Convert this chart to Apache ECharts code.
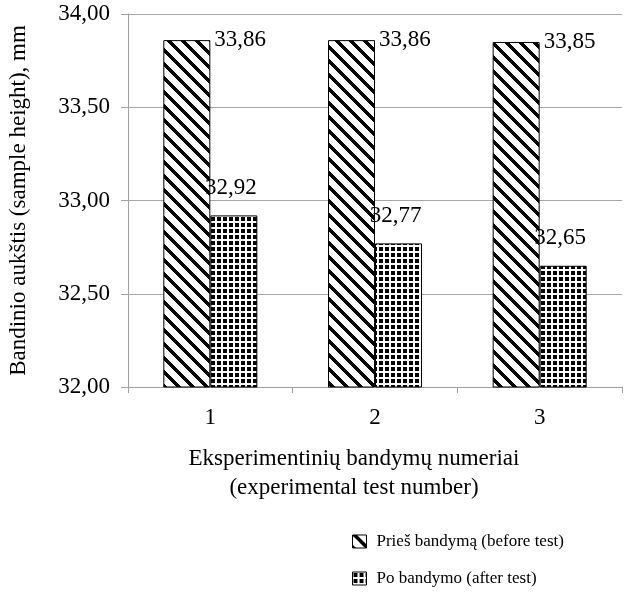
<!DOCTYPE html>
<html>
<head>
<meta charset="utf-8">
<script src="https://cdn.jsdelivr.net/npm/echarts@6/dist/echarts.min.js"></script>
<style>
html,body{margin:0;padding:0;background:#fff;}
#chart{width:625px;height:593px;}
</style>
</head>
<body>
<div id="chart"></div>
<script>
var categories = ['1', '2', '3'];
var beforeValues = [33.86, 33.86, 33.85];
var afterValues = [32.92, 32.77, 32.65];
var seriesNames = ['Prieš bandymą (before test)', 'Po bandymo (after test)'];

var fontFamily = "'Liberation Serif', 'Times New Roman', serif";
var fontSize = 23;

function fmt(v) {
	return Number(v).toFixed(2).replace('.', ',');
}

// diagonal stripes, top-left to bottom-right
function stripePattern() {
	var size = 14, thick = 5;
	var c = document.createElement('canvas');
	c.width = size; c.height = size;
	var ctx = c.getContext('2d');
	var img = ctx.createImageData(size, size);
	for (var y = 0; y < size; y++) {
		for (var x = 0; x < size; x++) {
			var d = ((x - y) % size + size) % size;
			var v = d < thick ? 0 : 255;
			var i = (y * size + x) * 4;
			img.data[i] = v; img.data[i + 1] = v; img.data[i + 2] = v; img.data[i + 3] = 255;
		}
	}
	ctx.putImageData(img, 0, 0);
	return c;
}

// small black squares on white
function gridPattern() {
	var c = document.createElement('canvas');
	c.width = 6; c.height = 6;
	var ctx = c.getContext('2d');
	ctx.fillStyle = '#fff';
	ctx.fillRect(0, 0, 6, 6);
	ctx.fillStyle = '#000';
	ctx.fillRect(1, 1, 4, 4);
	return c;
}

var stripeColor = {image: stripePattern(), repeat: 'repeat'};
var gridColor = {image: gridPattern(), repeat: 'repeat'};

function legendItem(name, top) {
	return {
		left: 347,
		top: top,
		itemWidth: 14,
		itemHeight: 13,
		icon: 'rect',
		data: [name],
		textStyle: {fontFamily: fontFamily, fontSize: 17, color: '#000', padding: [0, 0, 0, 5]},
		itemStyle: {borderColor: '#000', borderWidth: 1}
	};
}

var myChart = echarts.init(document.getElementById('chart'));
var option = {
	backgroundColor: '#fff',
	animation: false,
	textStyle: {fontFamily: fontFamily, color: '#000'},
	grid: {left: 128, right: 3, top: 14, bottom: 206, outerBoundsMode: 'none', containLabel: false},
	legend: [legendItem(seriesNames[0], 528), legendItem(seriesNames[1], 565)],
	xAxis: {
		type: 'category',
		data: categories,
		name: 'Eksperimentinių bandymų numeriai\n(experimental test number)',
		nameLocation: 'middle',
		nameGap: 57,
		nameTextStyle: {fontFamily: fontFamily, fontSize: fontSize, color: '#000', lineHeight: 29, verticalAlign: 'top', padding: [0, 42, 0, 0]},
		axisLine: {lineStyle: {color: '#a0a0a0', width: 1}},
		axisTick: {show: true, length: 6, lineStyle: {color: '#a0a0a0'}},
		axisLabel: {fontFamily: fontFamily, fontSize: fontSize, color: '#000', margin: 19}
	},
	yAxis: {
		type: 'value',
		min: 32,
		max: 34,
		interval: 0.5,
		name: 'Bandinio aukštis (sample height), mm',
		nameLocation: 'middle',
		nameGap: 98,
		nameTextStyle: {fontFamily: fontFamily, fontSize: fontSize, color: '#000'},
		axisLine: {show: true, lineStyle: {color: '#a0a0a0', width: 1}},
		axisTick: {show: true, length: 7, lineStyle: {color: '#a0a0a0'}},
		splitLine: {show: true, lineStyle: {color: '#a6a6a6', width: 1}},
		axisLabel: {fontFamily: fontFamily, fontSize: fontSize, color: '#000', margin: 18, formatter: fmt}
	},
	series: [
		{
			name: seriesNames[0],
			type: 'bar',
			data: beforeValues,
			barWidth: 47,
			barGap: '0%',
			itemStyle: {color: stripeColor, borderColor: '#000', borderWidth: 1},
			label: {
				show: true,
				position: ['100%', 0],
				align: 'left',
				verticalAlign: 'middle',
				offset: [4, 0],
				fontFamily: fontFamily,
				fontSize: fontSize,
				color: '#000',
				formatter: function(p) { return fmt(p.value); }
			}
		},
		{
			name: seriesNames[1],
			type: 'bar',
			data: afterValues,
			barWidth: 47,
			barGap: '0%',
			itemStyle: {color: gridColor, borderColor: '#000', borderWidth: 1},
			label: {
				show: true,
				position: 'top',
				distance: 16,
				offset: [-3, 0],
				fontFamily: fontFamily,
				fontSize: fontSize,
				color: '#000',
				formatter: function(p) { return fmt(p.value); }
			}
		}
	]
};
myChart.setOption(option);
</script>
</body>
</html>
